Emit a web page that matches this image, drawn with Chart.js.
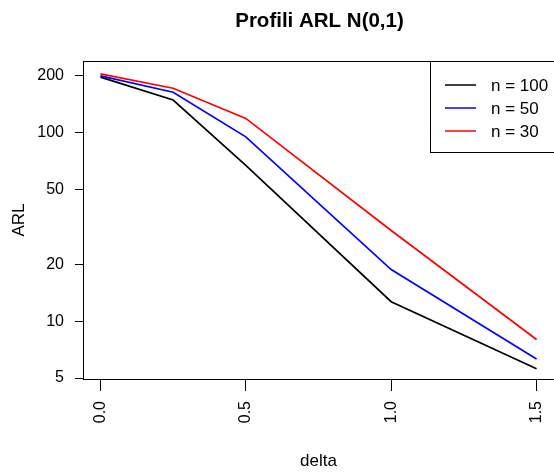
<!DOCTYPE html>
<html>
<head>
<meta charset="utf-8">
<script src="https://cdn.jsdelivr.net/npm/chart.js@4.4.1/dist/chart.umd.min.js"></script>
<style>
  html, body { margin: 0; padding: 0; background: #fff; }
  #myChart { display: block; }
</style>
</head>
<body>
<canvas id="myChart" width="554" height="475"></canvas>
<script>
var delta = [0, 0.25, 0.5, 1.0, 1.5];
var arl100 = [197, 149, 67, 12.7, 5.6];
var arl50 = [200, 164, 95, 18.8, 6.3];
var arl30 = [205, 172, 119, 30.3, 8.0];
var seriesNames = ["n = 100", "n = 50", "n = 30"];
var xTicks = [0, 0.5, 1.0, 1.5];
var yTicks = [5, 10, 20, 50, 100, 200];

var font = "'Liberation Sans', Arial, Helvetica, sans-serif";

function pts(ys) {
  return delta.map(function (d, i) { return { x: d, y: ys[i] }; });
}

// box round the plot, R-style title and legend
var rPlot = {
  id: 'rPlot',
  afterDraw: function (chart) {
    var c = chart.ctx, a = chart.chartArea;
    c.save();
    c.strokeStyle = '#000';
    c.lineWidth = 1;
    c.strokeRect(a.left + 0.5, a.top + 0.5, a.right - a.left, a.bottom - a.top);

    c.fillStyle = '#000';
    c.font = 'bold 20.5px ' + font;
    c.textAlign = 'center';
    c.textBaseline = 'middle';
    c.fillText("Profili ARL N(0,1)", (a.left + a.right) / 2 + 1, 21);

    // legend
    c.fillStyle = '#fff';
    c.fillRect(430, 61, 140, 91);
    c.strokeRect(430.5, 61.5, 140, 91);
    var rows = [85, 108, 131];
    c.font = '17px ' + font;
    c.textAlign = 'left';
    chart.data.datasets.forEach(function (ds, i) {
      c.strokeStyle = ds.borderColor;
      c.lineWidth = 1.5;
      c.beginPath();
      c.moveTo(445, rows[i]);
      c.lineTo(476, rows[i]);
      c.stroke();
      c.fillStyle = '#000';
      c.fillText(ds.label, 491, rows[i] + 1);
    });
    c.restore();
  }
};

var ctx = document.getElementById("myChart");
var myChart = new Chart(ctx, {
  type: 'line',
  data: {
    datasets: [
      { label: seriesNames[0], data: pts(arl100), borderColor: '#000000' },
      { label: seriesNames[1], data: pts(arl50), borderColor: '#0000ff' },
      { label: seriesNames[2], data: pts(arl30), borderColor: '#ff0000' }
    ]
  },
  options: {
    responsive: false,
    animation: false,
    devicePixelRatio: 1,
    layout: { padding: { top: 61, right: 0, left: 0, bottom: 0 } },
    elements: {
      line: { borderWidth: 1.7, tension: 0, fill: false },
      point: { radius: 0 }
    },
    plugins: {
      legend: { display: false },
      title: { display: false },
      tooltip: { enabled: false }
    },
    scales: {
      x: {
        type: 'linear',
        min: -0.06,
        max: 1.56,
        afterBuildTicks: function (s) { s.ticks = xTicks.map(function (v) { return { value: v }; }); },
        afterFit: function (s) { s.height = 96; s.paddingLeft = 0; s.paddingRight = 0; },
        ticks: {
          autoSkip: false,
          minRotation: 90,
          maxRotation: 90,
          padding: 10,
          color: '#000',
          font: { family: font, size: 16 },
          callback: function (v) { return Number(v).toFixed(1); }
        },
        grid: { drawOnChartArea: false, drawTicks: true, tickLength: 12, tickColor: '#000', color: '#000' },
        border: { display: true, color: '#000', width: 1 },
        title: { display: true, text: 'delta', color: '#000', font: { family: font, size: 17 }, padding: { top: 0, bottom: 3 } }
      },
      y: {
        type: 'logarithmic',
        min: 4.94,
        max: 240,
        afterBuildTicks: function (s) { s.ticks = yTicks.map(function (v) { return { value: v }; }); },
        afterFit: function (s) { s.width = 83; s.paddingTop = 0; s.paddingBottom = 0; },
        ticks: {
          autoSkip: false,
          padding: 11,
          color: '#000',
          font: { family: font, size: 16 },
          callback: function (v) { return String(v); }
        },
        grid: { drawOnChartArea: false, drawTicks: true, tickLength: 8, tickColor: '#000', color: '#000' },
        border: { display: true, color: '#000', width: 1 },
        title: { display: true, text: 'ARL', color: '#000', font: { family: font, size: 17 }, padding: { top: 9, bottom: 0 } }
      }
    }
  },
  plugins: [rPlot]
});
</script>
</body>
</html>
